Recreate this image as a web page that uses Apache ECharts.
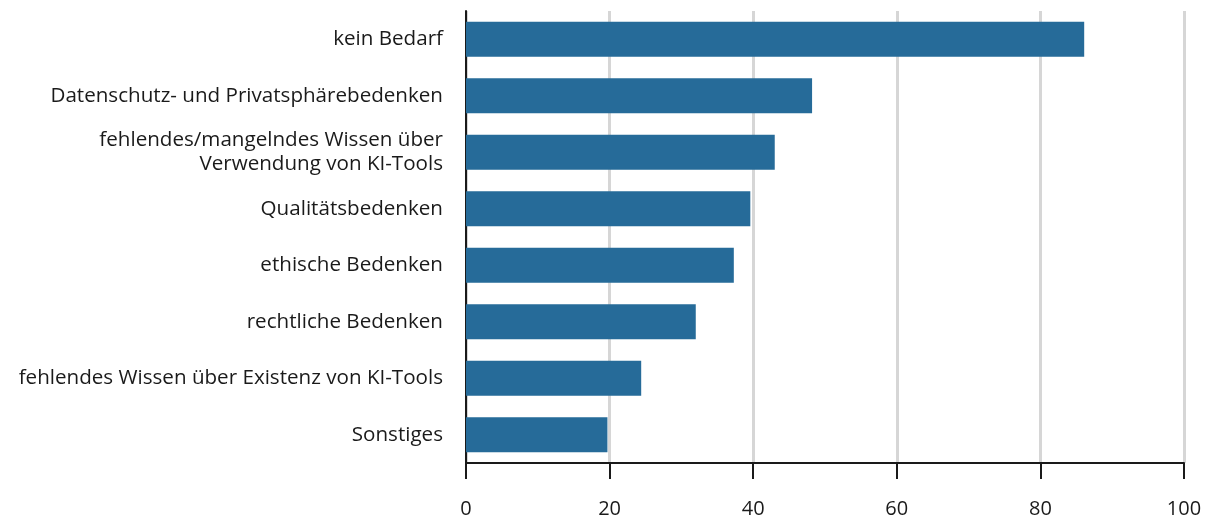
<!DOCTYPE html>
<html><head><meta charset="utf-8">
<script src="https://cdn.jsdelivr.net/npm/echarts@6/dist/echarts.min.js"></script>
<style>html,body{margin:0;padding:0;background:#fff}#c{width:1212px;height:519px}</style>
</head><body><div id="c"></div>
<script>
const categories = [
  "kein Bedarf",
  "Datenschutz- und Privatsphärebedenken",
  "fehlendes/mangelndes Wissen über\nVerwendung von KI-Tools",
  "Qualitätsbedenken",
  "ethische Bedenken",
  "rechtliche Bedenken",
  "fehlendes Wissen über Existenz von KI-Tools",
  "Sonstiges"
];
const values = [86.1, 48.2, 43.0, 39.6, 37.3, 32.0, 24.4, 19.7];
const xTicks = [0, 20, 40, 60, 80, 100];

const chart = echarts.init(document.getElementById('c'));
chart.setOption({
  animation: false,
  grid: { left: 466, right: 28, top: 11, bottom: 55 },
  xAxis: {
    type: 'value', min: 0, max: 100, interval: 20,
    axisLine: { show: true, lineStyle: { color: '#1a1a1a', width: 2 } },
    axisTick: { show: true, length: 16, lineStyle: { color: '#1a1a1a', width: 2 } },
    axisLabel: { margin: 36, color: '#1a1a1a', fontSize: 20, fontFamily: 'Open Sans',
      formatter: v => xTicks.includes(v) ? String(v) : '' },
    splitLine: { show: true, lineStyle: { color: '#d6d6d6', width: 3 } }
  },
  yAxis: {
    type: 'category', inverse: true, data: categories,
    axisLine: { show: true, lineStyle: { color: '#1a1a1a', width: 2 } },
    axisTick: { show: false },
    axisLabel: { margin: 23, color: '#1a1a1a', fontSize: 20.6, lineHeight: 24, fontFamily: 'Open Sans', align: 'right' }
  },
  series: [{
    type: 'bar', data: values, barWidth: '62%',
    itemStyle: { color: '#266b99' }
  }]
});
</script></body></html>
